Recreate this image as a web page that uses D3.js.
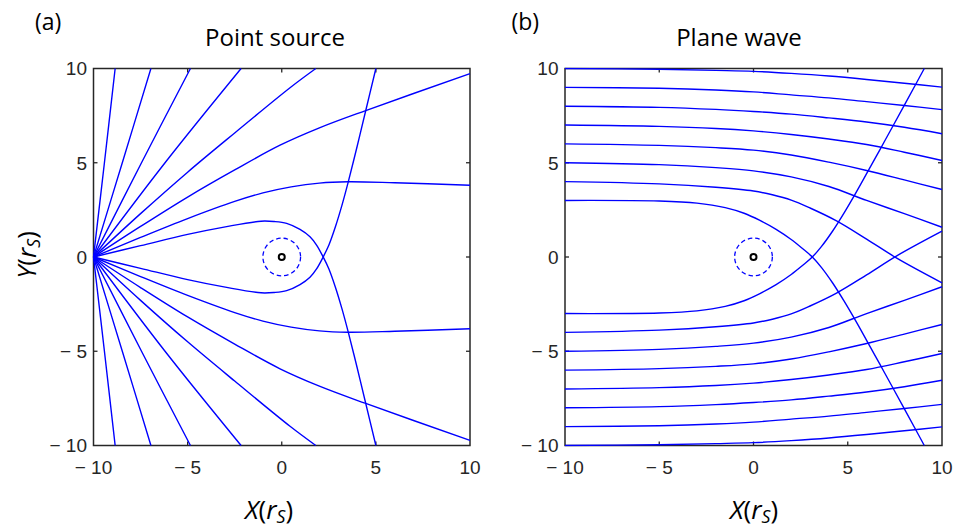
<!DOCTYPE html>
<html>
<head>
<meta charset="utf-8">
<script src="https://cdn.jsdelivr.net/npm/d3@7"></script>
<style>
  body { margin: 0; background: #fff; }
  svg { display: block; }
</style>
</head>
<body>
<div id="chart"></div>
<script>
// Light rays bent by a black hole: point source (a) and plane wave (b)

const ticks = [-10, -5, 0, 5, 10]
const tickLabels = ["− 10", "− 5", "0", "5", "10"]

// (a) point source at (-10, 0), upper rays
const psUp1 = [[-10, 0], [-9.42, 5], [-8.85, 10]]
const psUp2 = [[-10, 0], [-8.47, 5], [-6.95, 10]]
const psUp3 = [[-10, 0], [-7.45, 5], [-4.85, 10]]
const psUp4 = [[-10, 0], [-6.2, 5], [-2.16, 10]]
const psUp5 = [[-10, 0], [-7.5, 2.3], [-5, 4.5], [-2.5, 6.58], [0.44, 8.98], [1.81, 10]]
const psUp6 = [[-10, 0], [-7.5, 1.62], [-5, 3.18], [-2.5, 4.62], [-0.09, 5.93], [2, 6.85], [4.46, 7.77], [10, 9.73]]
const psUp7 = [[-10, 0], [-7.5, 1.04], [-5, 2.04], [-2.5, 2.95], [-1, 3.4], [0.5, 3.72], [2, 3.92], [3.5, 3.99], [6, 3.94], [10, 3.81]]
const psUp8 = [[-10, 0], [-7.5, 0.6], [-5, 1.2], [-3, 1.6], [-1.1, 1.9], [-0.4, 1.88], [0.26, 1.78], [0.97, 1.46], [1.5, 1.07], [1.85, 0.63], [2.2, 0], [2.5, -0.62], [2.85, -1.6], [3.2, -2.75], [3.53, -3.97], [4.0, -5.85], [4.45, -7.72], [5.0, -10]]

// (a) lower rays
const psLo1 = [[-10, 0], [-9.42, -5], [-8.85, -10]]
const psLo2 = [[-10, 0], [-8.47, -5], [-6.95, -10]]
const psLo3 = [[-10, 0], [-7.45, -5], [-4.85, -10]]
const psLo4 = [[-10, 0], [-6.2, -5], [-2.16, -10]]
const psLo5 = [[-10, 0], [-7.5, -2.3], [-5, -4.5], [-2.5, -6.58], [0.44, -8.98], [1.81, -10]]
const psLo6 = [[-10, 0], [-7.5, -1.62], [-5, -3.18], [-2.5, -4.62], [-0.09, -5.93], [2, -6.85], [4.46, -7.77], [10, -9.73]]
const psLo7 = [[-10, 0], [-7.5, -1.04], [-5, -2.04], [-2.5, -2.95], [-1, -3.4], [0.5, -3.72], [2, -3.92], [3.5, -3.99], [6, -3.94], [10, -3.81]]
const psLo8 = [[-10, 0], [-7.5, -0.6], [-5, -1.2], [-3, -1.6], [-1.1, -1.9], [-0.4, -1.88], [0.26, -1.78], [0.97, -1.46], [1.5, -1.07], [1.85, -0.63], [2.2, 0], [2.5, 0.62], [2.85, 1.6], [3.2, 2.75], [3.53, 3.97], [4.0, 5.85], [4.45, 7.72], [5.0, 10]]

// (b) plane wave, upper rays
const pwUp10 = [[-10, 10], [-5, 9.96], [-2, 9.9], [0, 9.85], [2, 9.74], [4, 9.6], [6, 9.42], [8, 9.22], [10, 9.01]]
const pwUp9 = [[-10, 9], [-5, 8.95], [-2, 8.86], [0, 8.76], [2, 8.6], [4, 8.44], [6, 8.24], [8, 8.04], [10, 7.82]]
const pwUp8 = [[-10, 8], [-5, 7.94], [-2, 7.83], [0, 7.72], [2, 7.58], [4, 7.38], [6, 7.16], [8, 6.88], [10, 6.54]]
const pwUp7 = [[-10, 7], [-5, 6.93], [-2, 6.82], [0, 6.69], [2, 6.5], [4, 6.26], [6, 5.97], [8, 5.56], [10, 5.12]]
const pwUp6 = [[-10, 6], [-5, 5.92], [-2, 5.8], [0, 5.67], [2, 5.41], [4, 5.03], [6, 4.59], [8, 4.09], [10, 3.58]]
const pwUp5 = [[-10, 5], [-5, 4.9], [-2, 4.74], [0, 4.57], [2, 4.25], [4, 3.74], [6, 3.0], [8, 2.3], [10, 1.58]]
const pwUp4 = [[-10, 4], [-5, 3.88], [-2, 3.7], [0, 3.5], [1, 3.3], [2, 3.02], [3, 2.6], [4.38, 1.93], [6, 0.95], [7.6, -0.06], [10, -1.37]]
const pwUp3 = [[-10, 3], [-5, 2.97], [-3, 2.86], [-1.5, 2.62], [-0.5, 2.32], [0.34, 1.94], [1.2, 1.47], [2.0, 0.93], [2.6, 0.45], [3.12, 0], [3.6, -0.55], [4.2, -1.38], [4.8, -2.33], [5.4, -3.35], [6.0, -4.42], [6.71, -5.7], [7.42, -6.99], [8.04, -8.12], [8.6, -9.15], [9.06, -10]]

// (b) lower rays
const pwLo10 = [[-10, -10], [-5, -9.96], [-2, -9.9], [0, -9.85], [2, -9.74], [4, -9.6], [6, -9.42], [8, -9.22], [10, -9.01]]
const pwLo9 = [[-10, -9], [-5, -8.95], [-2, -8.86], [0, -8.76], [2, -8.6], [4, -8.44], [6, -8.24], [8, -8.04], [10, -7.82]]
const pwLo8 = [[-10, -8], [-5, -7.94], [-2, -7.83], [0, -7.72], [2, -7.58], [4, -7.38], [6, -7.16], [8, -6.88], [10, -6.54]]
const pwLo7 = [[-10, -7], [-5, -6.93], [-2, -6.82], [0, -6.69], [2, -6.5], [4, -6.26], [6, -5.97], [8, -5.56], [10, -5.12]]
const pwLo6 = [[-10, -6], [-5, -5.92], [-2, -5.8], [0, -5.67], [2, -5.41], [4, -5.03], [6, -4.59], [8, -4.09], [10, -3.58]]
const pwLo5 = [[-10, -5], [-5, -4.9], [-2, -4.74], [0, -4.57], [2, -4.25], [4, -3.74], [6, -3.0], [8, -2.3], [10, -1.58]]
const pwLo4 = [[-10, -4], [-5, -3.88], [-2, -3.7], [0, -3.5], [1, -3.3], [2, -3.02], [3, -2.6], [4.38, -1.93], [6, -0.95], [7.6, 0.06], [10, 1.37]]
const pwLo3 = [[-10, -3], [-5, -2.97], [-3, -2.86], [-1.5, -2.62], [-0.5, -2.32], [0.34, -1.94], [1.2, -1.47], [2.0, -0.93], [2.6, -0.45], [3.12, 0], [3.6, 0.55], [4.2, 1.38], [4.8, 2.33], [5.4, 3.35], [6.0, 4.42], [6.71, 5.7], [7.42, 6.99], [8.04, 8.12], [8.6, 9.15], [9.06, 10]]

const blackHole = [0, 0]
const photonRing = 1 // dashed circle radius in r_s

const panels = [
  {
    id: "a", tag: "(a)", title: "Point source",
    left: 93.5, right: 470, tagX: 35, titleX: 275, xlabelX: 269, ylabel: true,
    rays: [psUp1, psUp2, psUp3, psUp4, psUp5, psUp6, psUp7, psUp8, psLo1, psLo2, psLo3, psLo4, psLo5, psLo6, psLo7, psLo8],
  },
  {
    id: "b", tag: "(b)", title: "Plane wave",
    left: 565, right: 942, tagX: 511.5, titleX: 739, xlabelX: 754, ylabel: false,
    rays: [pwUp10, pwUp9, pwUp8, pwUp7, pwUp6, pwUp5, pwUp4, pwUp3, pwLo10, pwLo9, pwLo8, pwLo7, pwLo6, pwLo5, pwLo4, pwLo3],
  },
]

const plotTop = 68.5
const plotBottom = 445.5
const frameColor = "#262626"
const rayColor = "#0000ff"
const tickFont = "'Liberation Sans', Arial, Helvetica, sans-serif"
const textFont = "'Open Sans', 'Noto Sans', sans-serif"

const svg = d3.select("#chart").append("svg").attr("width", 960).attr("height", 528)
const defs = svg.append("defs")

// letter(r_S) label with italic letters and subscript
function addLabel(g, letter) {
  g.append("tspan").attr("font-style", "italic").text(letter)
  g.append("tspan").text("(")
  g.append("tspan").attr("font-style", "italic").text("r")
  g.append("tspan").attr("font-style", "italic").attr("font-size", "0.68em").attr("dy", "0.22em").text("S")
  g.append("tspan").attr("dy", "-0.15em").text(")")
}

panels.forEach((p) => {
  const x = d3.scaleLinear().domain([-10, 10]).range([p.left, p.right])
  const y = d3.scaleLinear().domain([-10, 10]).range([plotBottom, plotTop])
  const g = svg.append("g").attr("class", "panel-" + p.id)

  defs.append("clipPath").attr("id", "clip-" + p.id)
    .append("rect")
    .attr("x", p.left - 1).attr("y", plotTop - 1)
    .attr("width", p.right - p.left + 2).attr("height", plotBottom - plotTop + 2)

  // Frame
  g.append("rect")
    .attr("x", p.left).attr("y", plotTop)
    .attr("width", p.right - p.left).attr("height", plotBottom - plotTop)
    .style("fill", "none").style("stroke", frameColor).style("stroke-width", 1.5)

  // Inward ticks on all four sides
  const tl = 4
  const inner = ticks.slice(1, -1)
  inner.forEach((t) => {
    g.append("line").attr("x1", x(t)).attr("x2", x(t)).attr("y1", plotBottom).attr("y2", plotBottom - tl)
      .style("stroke", frameColor).style("stroke-width", 1.3)
    g.append("line").attr("x1", x(t)).attr("x2", x(t)).attr("y1", plotTop).attr("y2", plotTop + tl)
      .style("stroke", frameColor).style("stroke-width", 1.3)
    g.append("line").attr("y1", y(t)).attr("y2", y(t)).attr("x1", p.left).attr("x2", p.left + tl)
      .style("stroke", frameColor).style("stroke-width", 1.3)
    g.append("line").attr("y1", y(t)).attr("y2", y(t)).attr("x1", p.right).attr("x2", p.right - tl)
      .style("stroke", frameColor).style("stroke-width", 1.3)
  })

  // Tick labels
  ticks.forEach((t, i) => {
    g.append("text")
      .attr("x", x(t)).attr("y", plotBottom + 28)
      .attr("text-anchor", "middle")
      .style("font-family", tickFont).style("font-size", "19px").style("fill", frameColor)
      .text(tickLabels[i])
    g.append("text")
      .attr("x", p.left - 6.5).attr("y", y(t)).attr("dy", "0.36em")
      .attr("text-anchor", "end")
      .style("font-family", tickFont).style("font-size", "19px").style("fill", frameColor)
      .text(tickLabels[i])
  })

  // Rays
  const line = d3.line()
    .x((d) => x(d[0]))
    .y((d) => y(d[1]))
    .curve(d3.curveCatmullRom.alpha(0.5))

  const rays = g.append("g").attr("clip-path", `url(#clip-${p.id})`)
  rays.selectAll("path")
    .data(p.rays)
    .enter()
    .append("path")
    .attr("d", line)
    .style("fill", "none")
    .style("stroke", rayColor)
    .style("stroke-width", 1.4)

  // Black hole and dashed ring
  rays.append("circle")
    .attr("cx", x(blackHole[0])).attr("cy", y(blackHole[1]))
    .attr("r", x(photonRing) - x(0))
    .style("fill", "none").style("stroke", rayColor).style("stroke-width", 1.3)
    .style("stroke-dasharray", "4.5,3")
  rays.append("circle")
    .attr("cx", x(blackHole[0])).attr("cy", y(blackHole[1]))
    .attr("r", 3)
    .style("fill", "none").style("stroke", "#000").style("stroke-width", 2)

  // Titles
  g.append("text")
    .attr("x", p.titleX).attr("y", 46)
    .attr("text-anchor", "middle")
    .style("font-family", textFont).style("font-size", "24px").style("fill", "#000")
    .text(p.title)
  g.append("text")
    .attr("x", p.tagX).attr("y", 30)
    .style("font-family", textFont).style("font-size", "23px").style("fill", "#000")
    .text(p.tag)

  // X axis label
  const xl = g.append("text")
    .attr("x", p.xlabelX).attr("y", 519)
    .attr("text-anchor", "middle")
    .style("font-family", textFont).style("font-size", "26px").style("fill", "#000")
  addLabel(xl, "X")

  if (p.ylabel) {
    const yl = g.append("text")
      .attr("transform", `translate(36, 255) rotate(-90)`)
      .attr("text-anchor", "middle")
      .style("font-family", textFont).style("font-size", "26px").style("fill", "#000")
    addLabel(yl, "Y")
  }
})
</script>
</body>
</html>
